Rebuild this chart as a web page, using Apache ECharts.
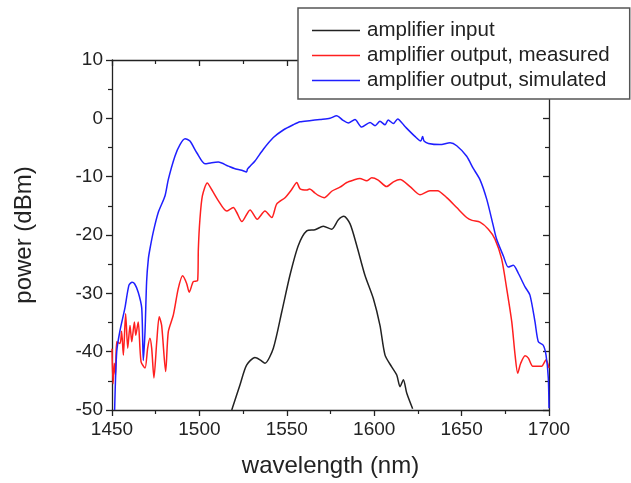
<!DOCTYPE html>
<html><head><meta charset="utf-8">
<script src="https://cdn.jsdelivr.net/npm/echarts@6/dist/echarts.min.js"></script>
<style>html,body{margin:0;padding:0;background:#fff}#c{width:631px;height:483px}</style>
</head><body><div id="c"></div>
<script>
const seriesNames = ['amplifier input', 'amplifier output, measured', 'amplifier output, simulated'];
const xTicks = [1450, 1500, 1550, 1600, 1650, 1700];
const yTicks = [-50, -40, -30, -20, -10, 0, 10];

const inputWl = [1518.5,1523.2,1527,1531.8,1534.7,1537.5,1542.3,1547.1,1551.8,1556.6,1561.4,1566.1,1570.9,1575.7,1579.5,1582.7,1586.2,1590,1594.7,1599.5,1603.3,1606.2,1610,1612.9,1614.8,1616.7,1618.6,1622];
const inputPow = [-50,-45.7,-42.3,-41,-41.4,-42,-39.4,-33.2,-26.9,-21.8,-19.3,-19.1,-18.5,-19,-17.4,-16.8,-18.1,-21.8,-26.9,-30.9,-35.5,-40.6,-42.6,-44,-46,-44.8,-47.1,-49.8];

const measWl = [1450,1450.6,1451.3,1452,1452.7,1454.6,1455.5,1456.5,1457.8,1459,1460.3,1461.3,1462.8,1463.6,1465,1466.6,1468.9,1470.4,1471.7,1472.7,1474,1475.6,1477,1478.4,1480.7,1482.2,1485.1,1487.9,1490.4,1492.7,1494.2,1496.5,1499,1499.4,1500.3,1501.7,1504.5,1507,1510.8,1515.6,1519.4,1521.3,1524.3,1529,1533.1,1537.5,1541.4,1544.2,1549,1552.8,1555.7,1557.6,1561.4,1563,1566.1,1568,1571.4,1575.7,1580.4,1584.3,1588,1591.8,1595.7,1598.6,1602.3,1607.1,1611,1614.8,1620.5,1626.2,1631.9,1636.2,1641.5,1647.2,1652.9,1656,1660.5,1665.3,1669.1,1672.9,1675.8,1678.7,1680.6,1682.1,1683.8,1686.3,1688.2,1690.7,1693,1695.8,1698.3,1700];
const measPow = [-39.5,-45.5,-42,-44,-38.3,-38.6,-36.5,-40.6,-33.5,-39.4,-35.5,-38.3,-34.9,-37.2,-34.9,-41.7,-42.8,-39.4,-37.7,-39.4,-44.5,-38.3,-34,-35.5,-43.4,-36.6,-33.7,-29.2,-27,-28.3,-29.8,-28,-27.8,-22.4,-17.3,-13.3,-11.1,-12.2,-14.1,-15.9,-15.3,-16.1,-17.7,-15.7,-17.3,-15.9,-17,-14.7,-13.6,-12.2,-11.0,-12.1,-12.3,-12.1,-12.8,-13.2,-13.6,-12.5,-11.8,-11,-10.6,-10.3,-10.7,-10.2,-10.6,-11.7,-10.9,-10.5,-11.7,-13.1,-12.4,-12.4,-13.6,-15.3,-17,-17.5,-17.8,-19,-20.7,-24.1,-29.2,-34.9,-40.6,-43.7,-42,-40.7,-41.1,-42.5,-42.5,-42.5,-41.4,-42.8];

const simWl = [1451.5,1452.7,1454.5,1457.4,1459.7,1461.5,1463,1465,1467,1467.9,1468.9,1469.8,1470.8,1471.7,1473.6,1476.5,1480.3,1482.2,1486,1488.9,1491.8,1494.6,1498.5,1503.2,1507,1510.8,1516.6,1520,1524.2,1527,1527.5,1529,1531.8,1536.6,1542.3,1548,1553.7,1557.6,1563,1569,1574.7,1578.5,1582,1585.2,1589,1592.8,1597.6,1600.5,1603.3,1606.2,1608,1611,1613.4,1617.6,1623.3,1626.6,1627.7,1628.5,1631,1637.6,1643.4,1647.2,1652.9,1656.5,1660.5,1664.4,1668.1,1670,1673.9,1676.7,1679.6,1682.5,1686.3,1689.1,1692,1693.9,1696.7,1698.3,1699.6,1700];
const simPow = [-50,-40,-36.5,-32.5,-28.6,-28.1,-28.4,-29.8,-32.5,-41.5,-36.5,-28,-24.1,-22.4,-19.5,-16.1,-13.3,-10.5,-6.5,-4.5,-3.5,-3.9,-5.9,-7.8,-7.6,-7.5,-8.2,-8.6,-8.9,-9.2,-8.7,-8.2,-7.3,-5.3,-3.3,-2.0,-1.1,-0.6,-0.4,-0.2,0.0,0.45,-0.3,-0.8,-0.2,-1.5,-0.7,-1.25,-0.5,-1.1,-0.3,-0.9,-0.1,-1.4,-3.1,-3.9,-3.1,-3.9,-4.3,-4.5,-4.2,-4.7,-6.5,-8.5,-10.5,-13.9,-18.4,-20.7,-23.6,-25.5,-25.2,-26.6,-28.9,-30.3,-34.9,-38.3,-38.9,-40.6,-44.5,-49.7];

const colors = ['#222222', '#ff1f1f', '#1f1fff'];
const zip = (a, b) => a.map((v, i) => [v, b[i]]);
const seriesData = [zip(inputWl, inputPow), zip(measWl, measPow), zip(simWl, simPow)];

const FONT = 'Arial, "Liberation Sans", sans-serif';
const axisLine = { show: true, onZero: false, lineStyle: { color: '#222', width: 1.3 } };
const tickStyle = { color: '#222', width: 1.3 };
const minorStyle = { color: '#222', width: 1.2 };
const plain = v => String(v);

const chart = echarts.init(document.getElementById('c'), null, { renderer: 'canvas' });
chart.setOption({
  animation: false,
  backgroundColor: '#fff',
  grid: { left: 112, right: 82, top: 60, bottom: 71 },
  legend: {
    orient: 'vertical', left: 298, top: 8, z: 10,
    backgroundColor: '#fff', borderColor: '#555', borderWidth: 1.5,
    padding: [12, 20, 8, 14], itemGap: 4,
    icon: 'rect', itemWidth: 48, itemHeight: 1.5,
    textStyle: { fontFamily: FONT, fontSize: 20.5, color: '#222', padding: [0, 0, 0, 2] },
    data: seriesNames
  },
  xAxis: [
    { type: 'value', position: 'bottom', min: xTicks[0], max: xTicks[xTicks.length - 1], interval: 50,
      name: 'wavelength (nm)', nameLocation: 'middle', nameGap: 44,
      nameTextStyle: { fontFamily: FONT, fontSize: 24, color: '#222' },
      axisLine, axisTick: { inside: false, length: 6, lineStyle: tickStyle },
      minorTick: { show: true, splitNumber: 2, length: 4, lineStyle: minorStyle },
      axisLabel: { fontFamily: FONT, fontSize: 19, color: '#222', margin: 10, formatter: plain },
      splitLine: { show: false } },
    { type: 'value', position: 'top', min: xTicks[0], max: xTicks[xTicks.length - 1], interval: 50,
      axisLine, axisTick: { inside: true, length: 6, lineStyle: tickStyle },
      minorTick: { show: true, splitNumber: 2, length: 4, lineStyle: minorStyle },
      axisLabel: { show: false }, splitLine: { show: false } }
  ],
  yAxis: [
    { type: 'value', position: 'left', min: yTicks[0], max: yTicks[yTicks.length - 1], interval: 10,
      name: 'power (dBm)', nameLocation: 'middle', nameGap: 76,
      nameTextStyle: { fontFamily: FONT, fontSize: 24, color: '#222' },
      axisLine, axisTick: { inside: false, length: 6, lineStyle: tickStyle },
      minorTick: { show: true, splitNumber: 2, length: 4, lineStyle: minorStyle },
      axisLabel: { fontFamily: FONT, fontSize: 19, color: '#222', margin: 9, formatter: plain },
      splitLine: { show: false } },
    { type: 'value', position: 'right', min: yTicks[0], max: yTicks[yTicks.length - 1], interval: 10,
      axisLine, axisTick: { inside: true, length: 6, lineStyle: tickStyle },
      minorTick: { show: true, splitNumber: 2, length: 4, lineStyle: minorStyle },
      axisLabel: { show: false }, splitLine: { show: false } }
  ],
  series: seriesNames.map((n, i) => ({
    name: n, type: 'line', xAxisIndex: 0, yAxisIndex: 0,
    data: seriesData[i], showSymbol: false, symbol: 'none', smooth: 0.25,
    clip: true,
    lineStyle: { color: colors[i], width: 1.5 }, itemStyle: { color: colors[i] }
  }))
});
</script></body></html>
